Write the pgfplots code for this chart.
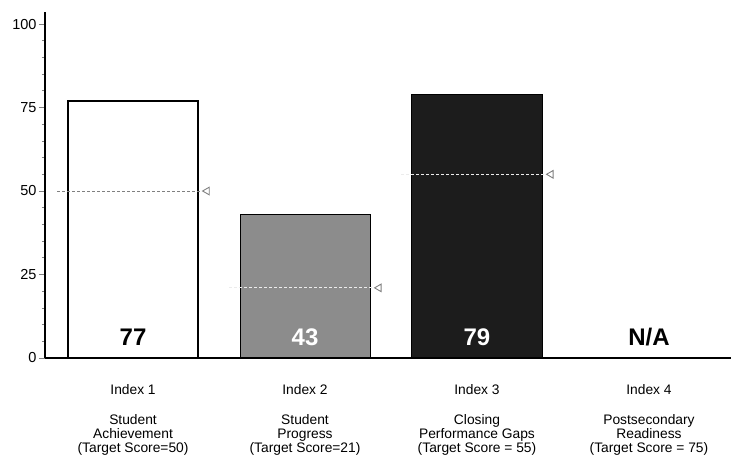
\documentclass[border=0pt]{standalone}
\usepackage{fontspec}
\setmainfont{Liberation Sans}
\usepackage{pgfplots}
\pgfplotsset{compat=1.18}
\definecolor{midbar}{HTML}{8C8C8C}
\definecolor{darkbar}{HTML}{1C1C1C}
\begin{document}
\begin{tikzpicture}[x=1pt,y=1pt]
\path[use as bounding box] (0,0) rectangle (731,463);
\begin{axis}[
  at={(45pt,105pt)}, anchor=south west,
  scale only axis, width=686pt, height=346pt,
  xmin=-0.512, xmax=3.477, ymin=0, ymax=103.6,
  axis x line*=bottom, axis y line*=left,
  x axis line style={-, line width=1.2pt},
  y axis line style={-, line width=1.6pt},
  clip=false,
  ytick={0,25,50,75,100},
  minor ytick={5,10,15,20,30,35,40,45,55,60,65,70,80,85,90,95},
  tick align=outside,
  major tick length=6pt, minor tick length=3pt,
  ytick style={line width=0.8pt},
  yticklabel style={font=\fontsize{14.5}{14.5}\selectfont, xshift=1pt},
  /pgf/number format/assume math mode=true,
  xtick={0,1,2,3},
  xtick style={draw=none},
  xticklabels={
    {Index 1\\[16pt]Student\\Achievement\\(Target Score=50)},
    {Index 2\\[16pt]Student\\Progress\\(Target Score=21)},
    {Index 3\\[16pt]Closing\\Performance Gaps\\(Target Score = 55)},
    {Index 4\\[16pt]Postsecondary\\Readiness\\(Target Score = 75)}},
  xticklabel style={align=center, font=\fontsize{13.8}{14}\selectfont, yshift=-17pt},
]
% bars
\addplot[ybar, bar width=0.756, bar shift=0pt, fill=white, draw=black, line width=1.5pt]
  coordinates {(0,77)};
\addplot[ybar, bar width=0.756, bar shift=0pt, fill=midbar, draw=black, line width=1pt]
  coordinates {(1,43)};
\addplot[ybar, bar width=0.756, bar shift=0pt, fill=darkbar, draw=black, line width=1pt]
  coordinates {(2,79)};
% target lines
\addplot[densely dashed, gray, line width=1pt] coordinates {(-0.44,50) (0.39,50)};
\addplot[densely dashed, white!85!gray, line width=1pt] coordinates {(0.56,21) (1.39,21)};
\addplot[densely dashed, white!85!gray, line width=1pt] coordinates {(1.56,55) (2.39,55)};
\addplot[only marks, mark=triangle, mark options={rotate=90, draw=gray, line width=0.9pt, scale=2.2}]
  coordinates {(0.43,50) (1.43,21) (2.43,55)};
% value labels
\node[font=\bfseries\fontsize{24}{24}\selectfont] at (axis cs:0,6.3) {77};
\node[font=\bfseries\fontsize{24}{24}\selectfont, text=white] at (axis cs:1,6.3) {43};
\node[font=\bfseries\fontsize{24}{24}\selectfont, text=white] at (axis cs:2,6.3) {79};
\node[font=\bfseries\fontsize{24}{24}\selectfont] at (axis cs:3,6.3) {N/A};
\end{axis}
\end{tikzpicture}
\end{document}
